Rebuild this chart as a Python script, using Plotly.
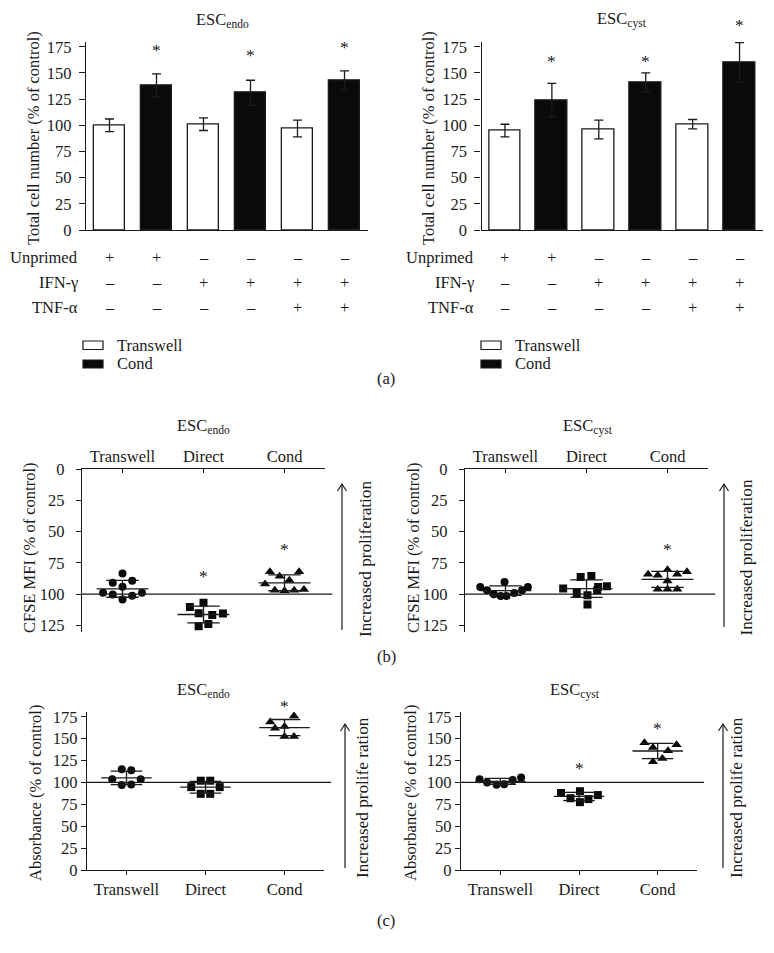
import numpy as np
import plotly.graph_objects as go

W, H = 774, 953          # browser window
PAGE_PAD = 8             # default page body margin around the figure
FIG_W, FIG_H = W - 2 * PAGE_PAD, H - 2 * PAGE_PAD
FONT = "Liberation Serif"
INK = "#1a1a1a"
FS = 16.5

# ---------------- data: panel (a) ----------------
row_labels = ["Unprimed", "IFN-γ", "TNF-α"]
unprimed_signs = ["+", "+", "–", "–", "–", "–"]
ifn_signs = ["–", "–", "+", "+", "+", "+"]
tnf_signs = ["–", "–", "–", "–", "+", "+"]
bar_groups = ["Transwell", "Cond", "Transwell", "Cond", "Transwell", "Cond"]
legend_names = ["Transwell", "Cond"]

endo_cells = [100, 138, 101, 131, 97, 143]
endo_cells_err = [6, 11, 6, 12, 8, 9]
endo_cells_star = [None, 175, None, 170, None, 178]

cyst_cells = [95, 124, 96, 141, 101, 160]
cyst_cells_err = [6, 16, 9, 9, 4.5, 19]
cyst_cells_star = [None, 164, None, 164, None, 199]

# ---------------- data: panel (b) CFSE MFI ----------------
groups = ["Transwell", "Direct", "Cond"]
control_level = 100

b_endo_transwell = [83.5, 91, 89.4, 94.2, 99, 100.4, 104.4, 101.4, 99]
b_endo_direct = [107, 110.3, 115.4, 116.7, 115.6, 125.8, 123.9]
b_endo_cond = [82.2, 85.7, 82.2, 88.9, 92, 96.9, 97.4, 96.9, 96.4]
b_endo_star = [None, 83.5, 61.6]

b_cyst_transwell = [94.3, 97, 100.2, 101.5, 101.5, 90.3, 99.1, 97, 94.3]
b_cyst_direct = [86.3, 85.5, 95.6, 99.1, 101, 96.9, 93.7, 108.4, 94.3]
b_cyst_cond = [84.1, 84.9, 80.6, 84.1, 82.2, 89.5, 96.1, 96.1, 96.1]
b_cyst_star = [None, None, 61.6]

# ---------------- data: panel (c) absorbance ----------------
c_endo_transwell = [103.8, 115.2, 114, 103.8, 97, 97.7]
c_endo_direct = [94.7, 102, 102, 94.7, 87, 87]
c_endo_cond = [169, 162, 164, 176, 152.5, 152.5]
c_endo_star = [None, None, 191]

c_cyst_transwell = [103.8, 100, 97.4, 98, 102.7, 105.7]
c_cyst_direct = [88, 82, 90, 77.5, 81, 85.6]
c_cyst_cond = [145.3, 140, 143, 136.2, 127.5, 123.6]
c_cyst_star = [None, 119.4, 166]

# side-by-side slots of the points in the original dot plots
b_endo_slots = [[0, -1, 1, 0, -2, -1, 0, 1, 2],
                [0, -1.4, -0.5, 0.9, 2, -0.5, 0.5],
                [-1.5, -0.5, 1.5, 0.5, -2, -1, 0, 1, 2]]
b_cyst_slots = [[-2.6, -1.9, -1.2, -0.5, 0.1, -0.1, 0.9, 1.7, 2.3],
                [-0.6, 0.5, -2.4, -1, 0.1, 1.1, 2.1, 0.1, 1.2],
                [-2, -1, 0, 1, 2, 0, -1, 0, 1]]
c_endo_slots = [[-1.5, -0.5, 0.5, 1.5, -0.5, 0.5],
                [-1.5, -0.5, 0.5, 1.5, -0.5, 0.5],
                [-1.5, -1, 0, 1, 0, 1]]
c_cyst_slots = [[-2.2, -1.4, -0.4, 0.4, 1.3, 2.2],
                [-1.9, -0.9, 0.1, 0.1, 1, 2],
                [-1.4, -0.5, 2, 1.1, 0.5, -0.5]]

SLOT = 0.12
SYMBOLS = ["circle", "square", "triangle-up"]
SIZES = [8, 8, 9]

BAR_RANGE = [0, 180]
B_RANGE = [130, 0]
C_RANGE = [0, 180.5]


def px_x(px):
    return (px - PAGE_PAD) / FIG_W


def px_y(py):
    return 1 - (py - PAGE_PAD) / FIG_H


fig = go.Figure()
ann = []


def star_annotations(stars, xa, ya, yrange):
    r0, r1 = yrange
    for i, s in enumerate(stars):
        if s is None:
            continue
        frac = (s - r0) / (r1 - r0)
        ann.append(dict(text="*", x=i, y=frac, xref=xa, yref=f"{ya} domain",
                        showarrow=False, xanchor="center", yanchor="middle", yshift=-3,
                        font=dict(family=FONT, size=17.5, color=INK)))


# ---------- bar panels ----------
def add_bar_panel(vals, errs, stars, xa, ya):
    colors = ["white" if g == "Transwell" else "#0a0a0a" for g in bar_groups]
    fig.add_trace(go.Bar(
        x=list(range(len(vals))), y=vals, width=0.68,
        marker=dict(color=colors, line=dict(color=INK, width=1.3)),
        error_y=dict(type="data", array=errs, color=INK, thickness=1.3, width=4.5),
        xaxis=xa, yaxis=ya, showlegend=False, hoverinfo="skip"))
    star_annotations(stars, xa, ya, BAR_RANGE)


add_bar_panel(endo_cells, endo_cells_err, endo_cells_star, "x", "y")
add_bar_panel(cyst_cells, cyst_cells_err, cyst_cells_star, "x2", "y2")


# ---------- dot panels ----------
def add_dot_panel(data, slots, stars, xa, ya, yrange):
    for gi, (vals, sl) in enumerate(zip(data, slots)):
        vals = np.array(vals, dtype=float)
        xs = [gi + s * SLOT for s in sl]
        m = vals.mean()
        sd = vals.std(ddof=1)
        lx = [gi - 0.32, gi + 0.32, None, gi - 0.2, gi + 0.2, None,
              gi - 0.2, gi + 0.2, None, gi, gi]
        ly = [m, m, None, m + sd, m + sd, None, m - sd, m - sd, None, m - sd, m + sd]
        fig.add_trace(go.Scatter(
            x=xs, y=vals, mode="markers",
            marker=dict(symbol=SYMBOLS[gi], size=SIZES[gi], color="#0a0a0a", line=dict(width=0)),
            xaxis=xa, yaxis=ya, showlegend=False, hoverinfo="skip"))
        fig.add_trace(go.Scatter(
            x=lx, y=ly, mode="lines", line=dict(color=INK, width=1.3),
            xaxis=xa, yaxis=ya, showlegend=False, hoverinfo="skip"))
    star_annotations(stars, xa, ya, yrange)
    fig.add_shape(type="line", xref=f"{xa} domain", yref=ya,
                  x0=0, x1=1.03, y0=control_level, y1=control_level,
                  line=dict(color=INK, width=1.3))


add_dot_panel([b_endo_transwell, b_endo_direct, b_endo_cond], b_endo_slots, b_endo_star, "x3", "y3", B_RANGE)
add_dot_panel([b_cyst_transwell, b_cyst_direct, b_cyst_cond], b_cyst_slots, b_cyst_star, "x4", "y4", B_RANGE)
add_dot_panel([c_endo_transwell, c_endo_direct, c_endo_cond], c_endo_slots, c_endo_star, "x5", "y5", C_RANGE)
add_dot_panel([c_cyst_transwell, c_cyst_direct, c_cyst_cond], c_cyst_slots, c_cyst_star, "x6", "y6", C_RANGE)

# ---------- axes ----------
tickfont = dict(family=FONT, size=FS, color=INK)
base = dict(showline=True, linecolor=INK, linewidth=1.3, showgrid=False, zeroline=False,
            tickfont=tickfont, tickcolor=INK, tickwidth=1.3, fixedrange=True, automargin=False)

layout_axes = {}
for i, (x0, x1) in zip(["", "2"], [(86, 368), (481.5, 763)]):
    layout_axes[f"xaxis{i}"] = dict(base, domain=[px_x(x0), px_x(x1)], range=[-0.5, 5.5],
                                    showticklabels=False, ticks="", anchor=f"y{i}")
    layout_axes[f"yaxis{i}"] = dict(base, domain=[px_y(230), px_y(41.5)], range=BAR_RANGE,
                                    tickvals=list(range(0, 176, 25)), ticks="outside", ticklen=6,
                                    ticklabelstandoff=4, anchor=f"x{i}")
for i, (x0, x1) in zip(["3", "4"], [(82, 325), (465, 708)]):
    layout_axes[f"xaxis{i}"] = dict(base, domain=[px_x(x0), px_x(x1)], range=[-0.5, 2.5],
                                    tickvals=[0, 1, 2], ticktext=groups, side="top",
                                    ticks="inside", ticklen=4, anchor=f"y{i}")
    layout_axes[f"yaxis{i}"] = dict(base, domain=[px_y(631.5), px_y(469.3)], range=B_RANGE,
                                    tickvals=list(range(0, 126, 25)), ticks="outside", ticklen=5,
                                    ticklabelstandoff=8, anchor=f"x{i}")
for i, (x0, x1) in zip(["5", "6"], [(87, 324), (461, 697)]):
    layout_axes[f"xaxis{i}"] = dict(base, domain=[px_x(x0), px_x(x1)], range=[-0.5, 2.5],
                                    tickvals=[0, 1, 2], ticktext=groups,
                                    ticks="outside", ticklen=4, anchor=f"y{i}")
    layout_axes[f"yaxis{i}"] = dict(base, domain=[px_y(870), px_y(712)], range=C_RANGE,
                                    tickvals=list(range(0, 176, 25)), ticks="outside", ticklen=5,
                                    anchor=f"x{i}")


def text(t, x, y, size=FS, angle=0, xanchor="center", yanchor="middle", xref="paper"):
    ann.append(dict(text=t, x=x, y=y, xref=xref, yref="paper", showarrow=False,
                    textangle=angle, xanchor=xanchor, yanchor=yanchor,
                    font=dict(family=FONT, size=size, color=INK)))


# titles
text("ESC<sub>endo</sub>", px_x(222), px_y(20))
text("ESC<sub>cyst</sub>", px_x(622), px_y(20))
text("ESC<sub>endo</sub>", px_x(203), px_y(426))
text("ESC<sub>cyst</sub>", px_x(588), px_y(426))
text("ESC<sub>endo</sub>", px_x(203), px_y(690))
text("ESC<sub>cyst</sub>", px_x(575), px_y(690))

# y-axis titles
text("Total cell number (% of control)", px_x(33), px_y(138), angle=-90)
text("Total cell number (% of control)", px_x(428), px_y(138), angle=-90)
text("CFSE MFI (% of control)", px_x(29), px_y(548), angle=-90)
text("CFSE MFI (% of control)", px_x(413), px_y(548), angle=-90)
text("Absorbance (% of control)", px_x(35), px_y(793), angle=-90)
text("Absorbance (% of control)", px_x(410), px_y(793), angle=-90)

# treatment table under bar panels
row_y = [257, 282, 307]
for xa, lab_x in [("x", 80), ("x2", 476)]:
    for r, (lab, signs) in enumerate(zip(row_labels, [unprimed_signs, ifn_signs, tnf_signs])):
        text(lab, px_x(lab_x), px_y(row_y[r]), xanchor="right")
        for ci, s in enumerate(signs):
            text(s, ci, px_y(row_y[r]), xref=xa)

# legends (boxes + labels)
for rx, tx in [(83, 115), (481, 513)]:
    for name, (y0, y1) in zip(legend_names, [(341, 349.5), (360, 368)]):
        fig.add_shape(type="rect", xref="paper", yref="paper",
                      x0=px_x(rx), x1=px_x(rx + 20), y0=px_y(y1), y1=px_y(y0),
                      line=dict(color=INK, width=1.2),
                      fillcolor="white" if name == "Transwell" else "#0a0a0a")
        text(name, px_x(tx), px_y((y0 + y1) / 2), xanchor="left")

# panel letters
text("(a)", px_x(386), px_y(378))
text("(b)", px_x(386), px_y(656))
text("(c)", px_x(386), px_y(920))

# proliferation arrows
for ax_x, tx_x, top, bot, label in [
    (342, 365, 484, 630, "Increased proliferation"),
    (724, 746, 484, 627, "Increased proliferation"),
    (345, 362, 724, 868, "Increased prolife ration"),
    (723, 736, 724, 868, "Increased prolife ration"),
]:
    fig.add_shape(type="line", xref="paper", yref="paper",
                  x0=px_x(ax_x), x1=px_x(ax_x), y0=px_y(bot), y1=px_y(top),
                  line=dict(color=INK, width=1.2))
    head = (f"M{px_x(ax_x - 4.5)},{px_y(top + 7)} L{px_x(ax_x)},{px_y(top)} "
            f"L{px_x(ax_x + 4.5)},{px_y(top + 7)}")
    fig.add_shape(type="path", xref="paper", yref="paper", path=head,
                  line=dict(color=INK, width=1.2))
    text(label, px_x(tx_x), px_y((top + bot) / 2 + 2), size=17.2, angle=-90)

fig.update_layout(
    width=FIG_W, height=FIG_H, margin=dict(l=0, r=0, t=0, b=0, autoexpand=False),
    paper_bgcolor="white", plot_bgcolor="white",
    font=dict(family=FONT, size=FS, color=INK),
    showlegend=False, bargap=0,
    annotations=ann,
    **layout_axes,
)

fig.write_html("out.html")
